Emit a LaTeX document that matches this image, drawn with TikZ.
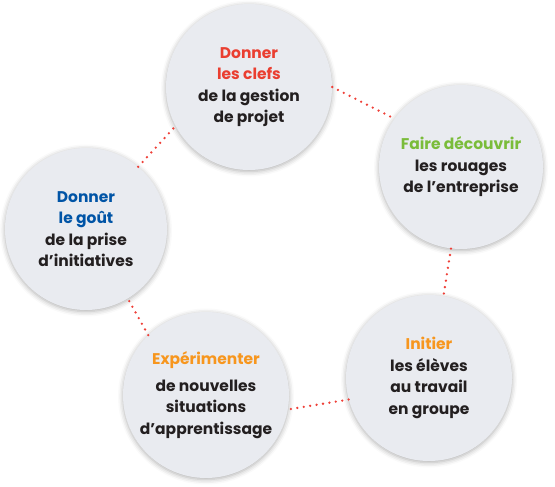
\documentclass[tikz,border=0pt]{standalone}
\usepackage{fontspec}
\setmainfont{Poppins}
\definecolor{clefred}{RGB}{234,62,48}
\definecolor{rouagegreen}{RGB}{122,188,58}
\definecolor{goutblue}{RGB}{0,84,166}
\definecolor{initorange}{RGB}{247,150,30}
\definecolor{bulletgray}{RGB}{233,235,240}
\definecolor{textblack}{RGB}{35,31,32}
\definecolor{dotred}{RGB}{238,64,56}
\usetikzlibrary{shadows.blur}

\begin{document}
\begin{tikzpicture}[x=1pt,y=-1pt,
  bubble/.style={circle,fill=bulletgray,minimum size=166pt,inner sep=0pt,align=center,
    text=textblack,font=\fontsize{15.5}{21.5}\selectfont\bfseries,
    blur shadow={shadow xshift=0pt,shadow yshift=-1.5pt,shadow blur radius=5pt,shadow opacity=32}},
  dotline/.style={dotred,line width=2.6pt,line cap=round,dash pattern=on 0pt off 6.5pt}]
  \useasboundingbox (0,0) rectangle (555,487);
  % Bulles
  \node[bubble] (clefs) at (249,87) {\textcolor{clefred}{Donner}\\\textcolor{clefred}{les clefs}\\de la gestion\\de projet};
  \node[bubble,minimum size=164pt] (rouages) at (461,167) {\textcolor{rouagegreen}{Faire découvrir}\\les rouages\\de l’entreprise};
  \node[bubble] (groupe) at (429,378) {\textcolor{initorange}{Initier}\\les élèves\\au travail\\en groupe};
  \node[bubble] (situations) at (206,395) {\textcolor{initorange}{Expérimenter}\\[5pt]de nouvelles\\situations\\d’apprentissage};
  \node[bubble,minimum size=162pt] (gout) at (86,229) {\textcolor{goutblue}{Donner}\\\textcolor{goutblue}{le goût}\\de la prise\\d’initiatives};
  % Pointilles
  \draw[dotline] (clefs.0) -- (rouages.144);
  \draw[dotline] (rouages.263) -- (groupe.80);
  \draw[dotline] (groupe.195) -- (situations.-10);
  \draw[dotline] (situations.134) -- (gout.-59);
  \draw[dotline] (gout.50) -- (clefs.208);
\end{tikzpicture}
\end{document}
